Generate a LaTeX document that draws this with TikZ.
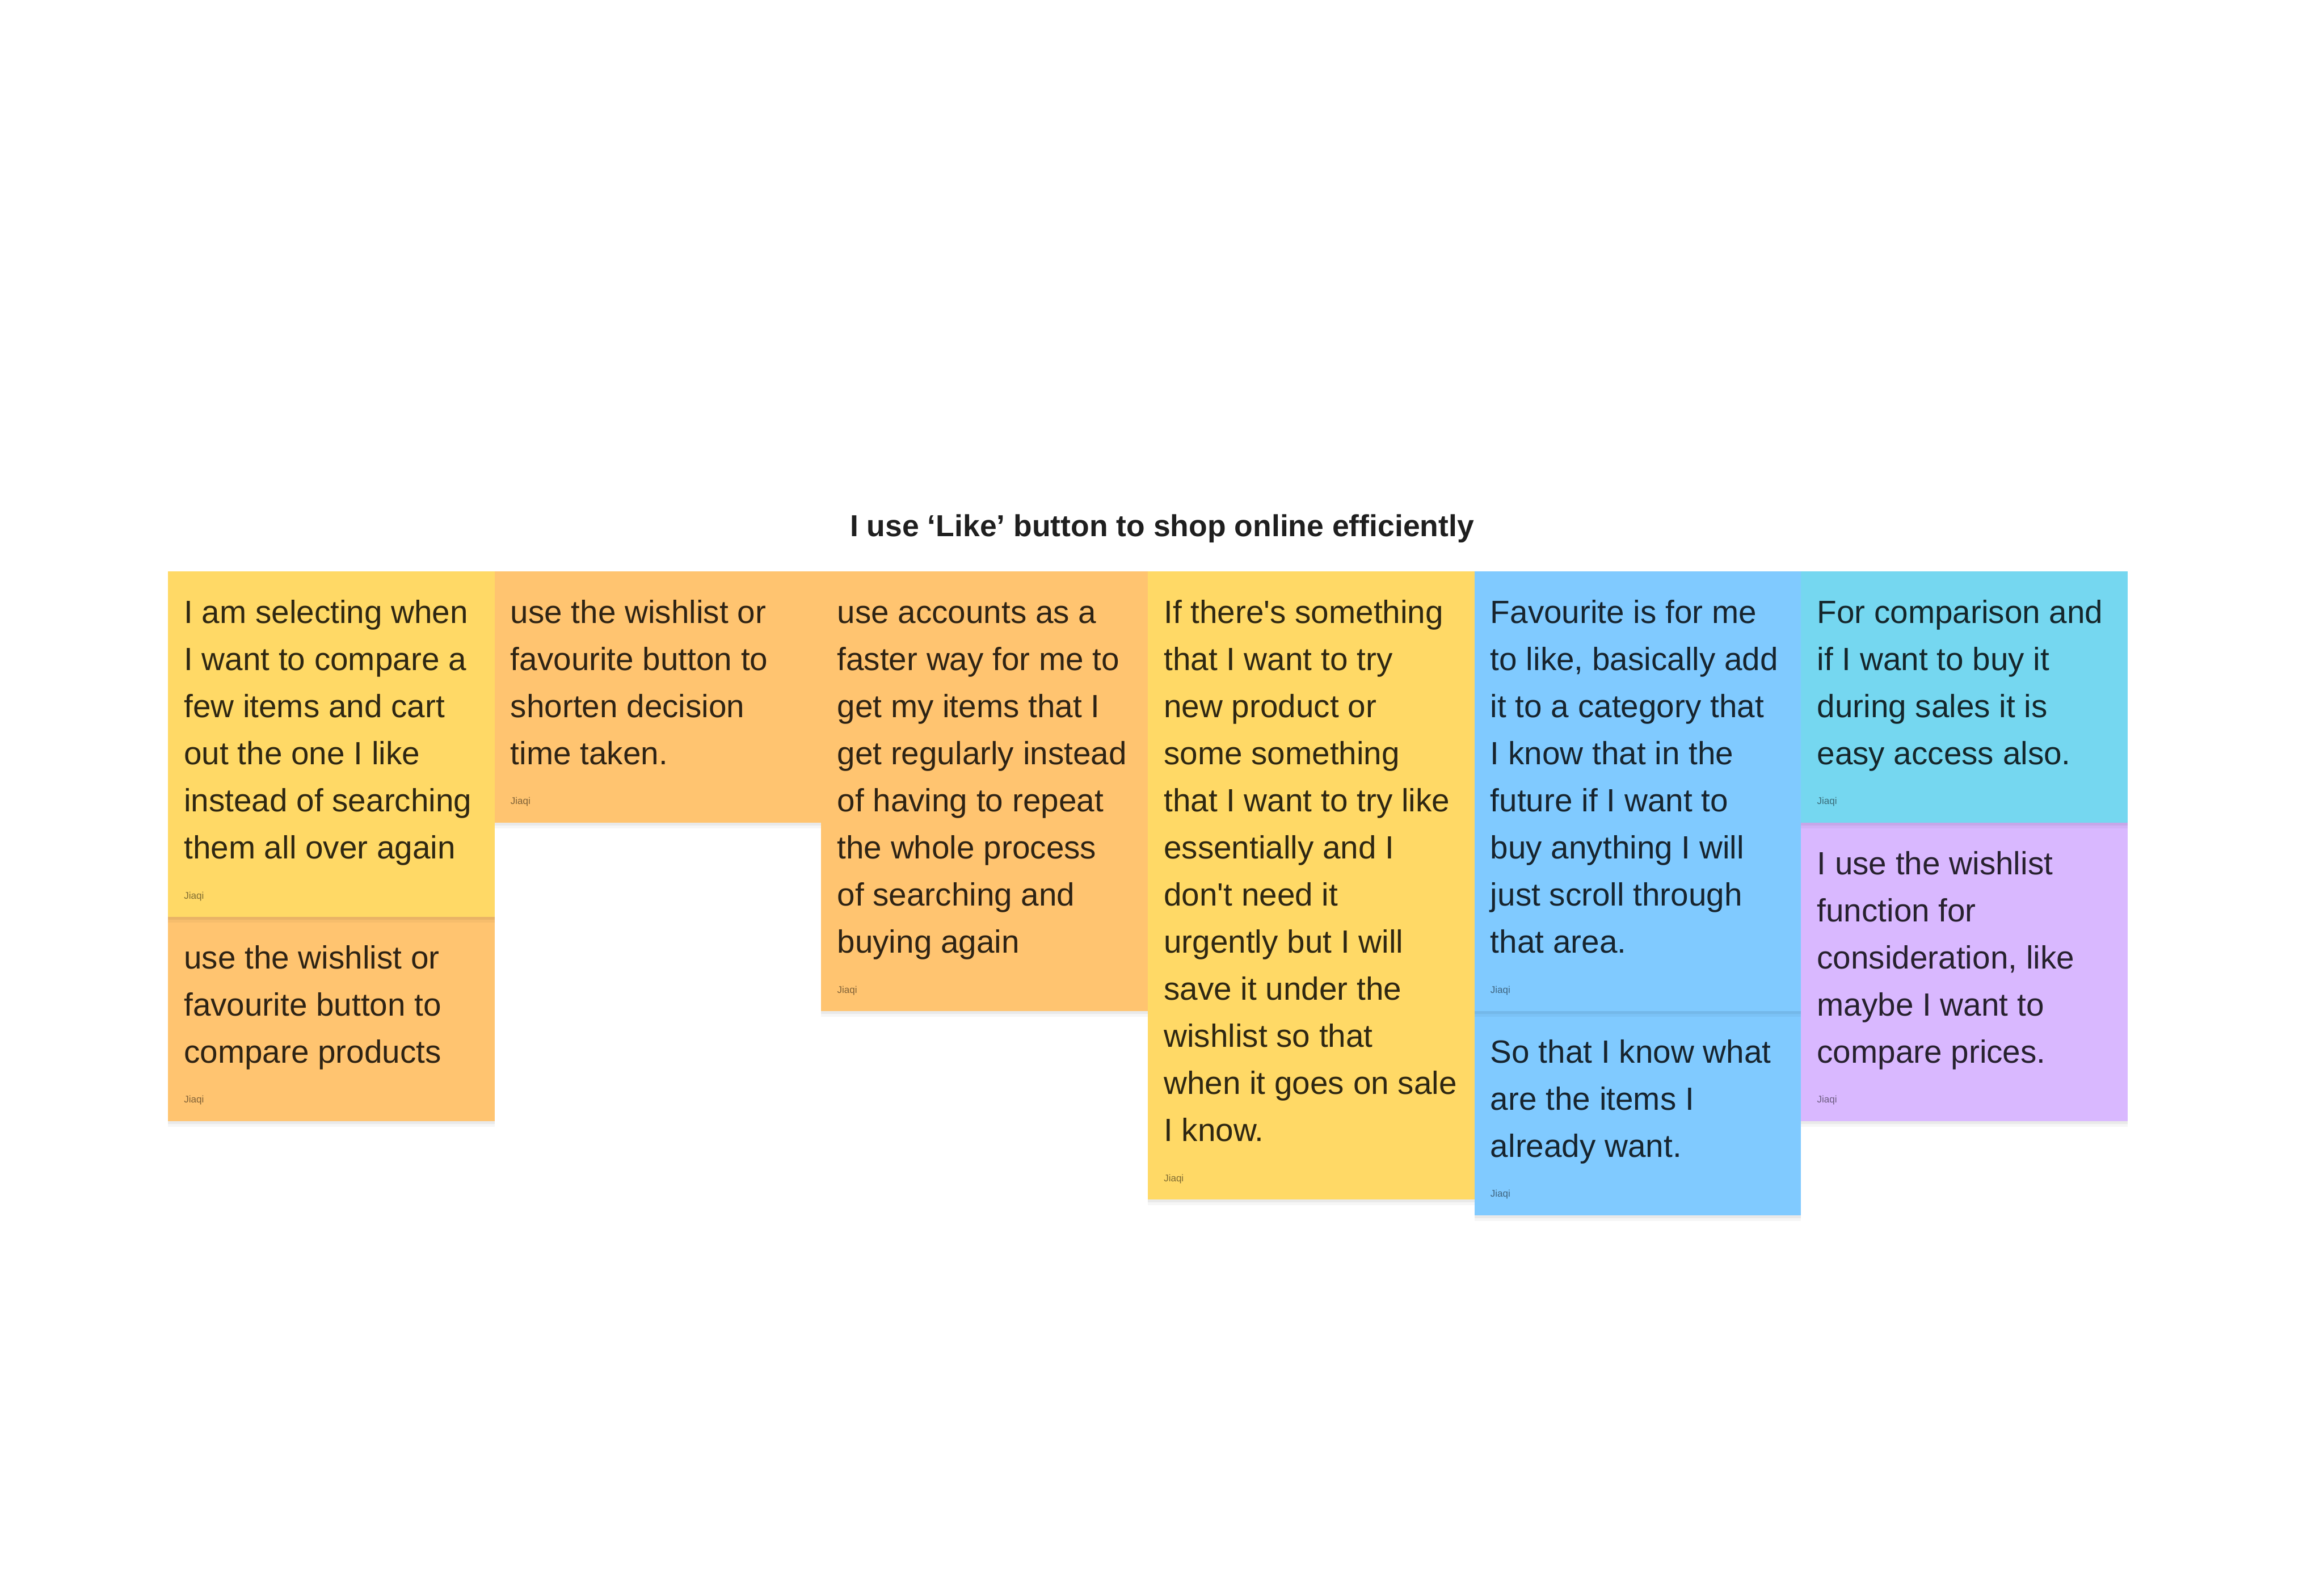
\documentclass[tikz,border=0pt]{standalone}
\usepackage{fontspec}
\setmainfont{Liberation Sans}
\usetikzlibrary{positioning,shadows}

\definecolor{stickyyellow}{HTML}{FFD966}
\definecolor{stickyorange}{HTML}{FFC470}
\definecolor{stickyblue}{HTML}{80CAFF}
\definecolor{stickyteal}{HTML}{75D7F0}
\definecolor{stickyviolet}{HTML}{D9B8FF}

\newcommand\notefont{\fontsize{23.3pt}{34.14pt}\selectfont}
\newcommand\authorfont{\fontsize{7pt}{8pt}\selectfont}
\newcommand\headfont{\fontsize{22pt}{26pt}\selectfont\bfseries}
\newcommand\apos{\textquotesingle}

\tikzset{
	sticky/.style={rectangle, inner sep=0pt, minimum width=8.32cm, anchor=north west, fill=#1,
		general shadow={fill=black, opacity=0.035, shadow yshift=-0.14cm},
		general shadow={fill=black, opacity=0.05, shadow yshift=-0.07cm}},
	stickytext/.style={inner sep=0pt, align=left, font=\notefont, text=black, text opacity=0.82},
	author/.style={inner sep=0pt, font=\authorfont, text=black, text opacity=0.5}
}

\begin{document}
\begin{tikzpicture}
		% page, 1 px of the board = 0.01 cm
		\fill [white] (0, 0) rectangle (59.2, -40.32);
		\useasboundingbox (0, 0) rectangle (59.2, -40.32);

		\node [anchor=base, font=\headfont, text=black!88] (head) at (29.6, -13.66) {I use ‘Like’ button to shop online efficiently};

		% column 1 (text is set on the baseline of its last line)
		\node [sticky=stickyorange, minimum height=5.2cm] (a2) at (4.27, -23.35) {};
		\node [stickytext, above right=1.49cm and 0.41cm of a2.south west, anchor=base west] (a2text)
			{use the wishlist or\\favourite button to\\compare products};
		\node [author, above right=0.47cm and 0.41cm of a2.south west, anchor=base west] (a2name) {Jiaqi};

		\node [sticky=stickyyellow, minimum height=8.8cm] (a1) at (4.27, -14.55) {};
		\node [stickytext, above right=1.49cm and 0.41cm of a1.south west, anchor=base west] (a1text)
			{I am selecting when\\I want to compare a\\few items and cart\\out the one I like\\instead of searching\\them all over again};
		\node [author, above right=0.47cm and 0.41cm of a1.south west, anchor=base west] (a1name) {Jiaqi};

		% column 2
		\node [sticky=stickyorange, minimum height=6.4cm] (b1) at (12.59, -14.55) {};
		\node [stickytext, above right=1.49cm and 0.41cm of b1.south west, anchor=base west] (b1text)
			{use the wishlist or\\favourite button to\\shorten decision\\time taken.};
		\node [author, above right=0.47cm and 0.41cm of b1.south west, anchor=base west] (b1name) {Jiaqi};

		% column 3
		\node [sticky=stickyorange, minimum height=11.2cm] (c1) at (20.91, -14.55) {};
		\node [stickytext, above right=1.49cm and 0.41cm of c1.south west, anchor=base west] (c1text)
			{use accounts as a\\faster way for me to\\get my items that I\\get regularly instead\\of having to repeat\\the whole process\\of searching and\\buying again};
		\node [author, above right=0.47cm and 0.41cm of c1.south west, anchor=base west] (c1name) {Jiaqi};

		% column 4
		\node [sticky=stickyyellow, minimum height=16cm] (d1) at (29.23, -14.55) {};
		\node [stickytext, above right=1.49cm and 0.41cm of d1.south west, anchor=base west] (d1text)
			{If there\apos s something\\that I want to try\\new product or\\some something\\that I want to try like\\essentially and I\\don\apos t need it\\urgently but I will\\save it under the\\wishlist so that\\when it goes on sale\\I know.};
		\node [author, above right=0.47cm and 0.41cm of d1.south west, anchor=base west] (d1name) {Jiaqi};

		% column 5
		\node [sticky=stickyblue, minimum height=5.2cm] (e2) at (37.55, -25.75) {};
		\node [stickytext, above right=1.49cm and 0.41cm of e2.south west, anchor=base west] (e2text)
			{So that I know what\\are the items I\\already want.};
		\node [author, above right=0.47cm and 0.41cm of e2.south west, anchor=base west] (e2name) {Jiaqi};

		\node [sticky=stickyblue, minimum height=11.2cm] (e1) at (37.55, -14.55) {};
		\node [stickytext, above right=1.49cm and 0.41cm of e1.south west, anchor=base west] (e1text)
			{Favourite is for me\\to like, basically add\\it to a category that\\I know that in the\\future if I want to\\buy anything I will\\just scroll through\\that area.};
		\node [author, above right=0.47cm and 0.41cm of e1.south west, anchor=base west] (e1name) {Jiaqi};

		% column 6
		\node [sticky=stickyviolet, minimum height=7.6cm] (f2) at (45.87, -20.95) {};
		\node [stickytext, above right=1.49cm and 0.41cm of f2.south west, anchor=base west] (f2text)
			{I use the wishlist\\function for\\consideration, like\\maybe I want to\\compare prices.};
		\node [author, above right=0.47cm and 0.41cm of f2.south west, anchor=base west] (f2name) {Jiaqi};

		\node [sticky=stickyteal, minimum height=6.4cm] (f1) at (45.87, -14.55) {};
		\node [stickytext, above right=1.49cm and 0.41cm of f1.south west, anchor=base west] (f1text)
			{For comparison and\\if I want to buy it\\during sales it is\\easy access also.};
		\node [author, above right=0.47cm and 0.41cm of f1.south west, anchor=base west] (f1name) {Jiaqi};
	\end{tikzpicture}
\end{document}
